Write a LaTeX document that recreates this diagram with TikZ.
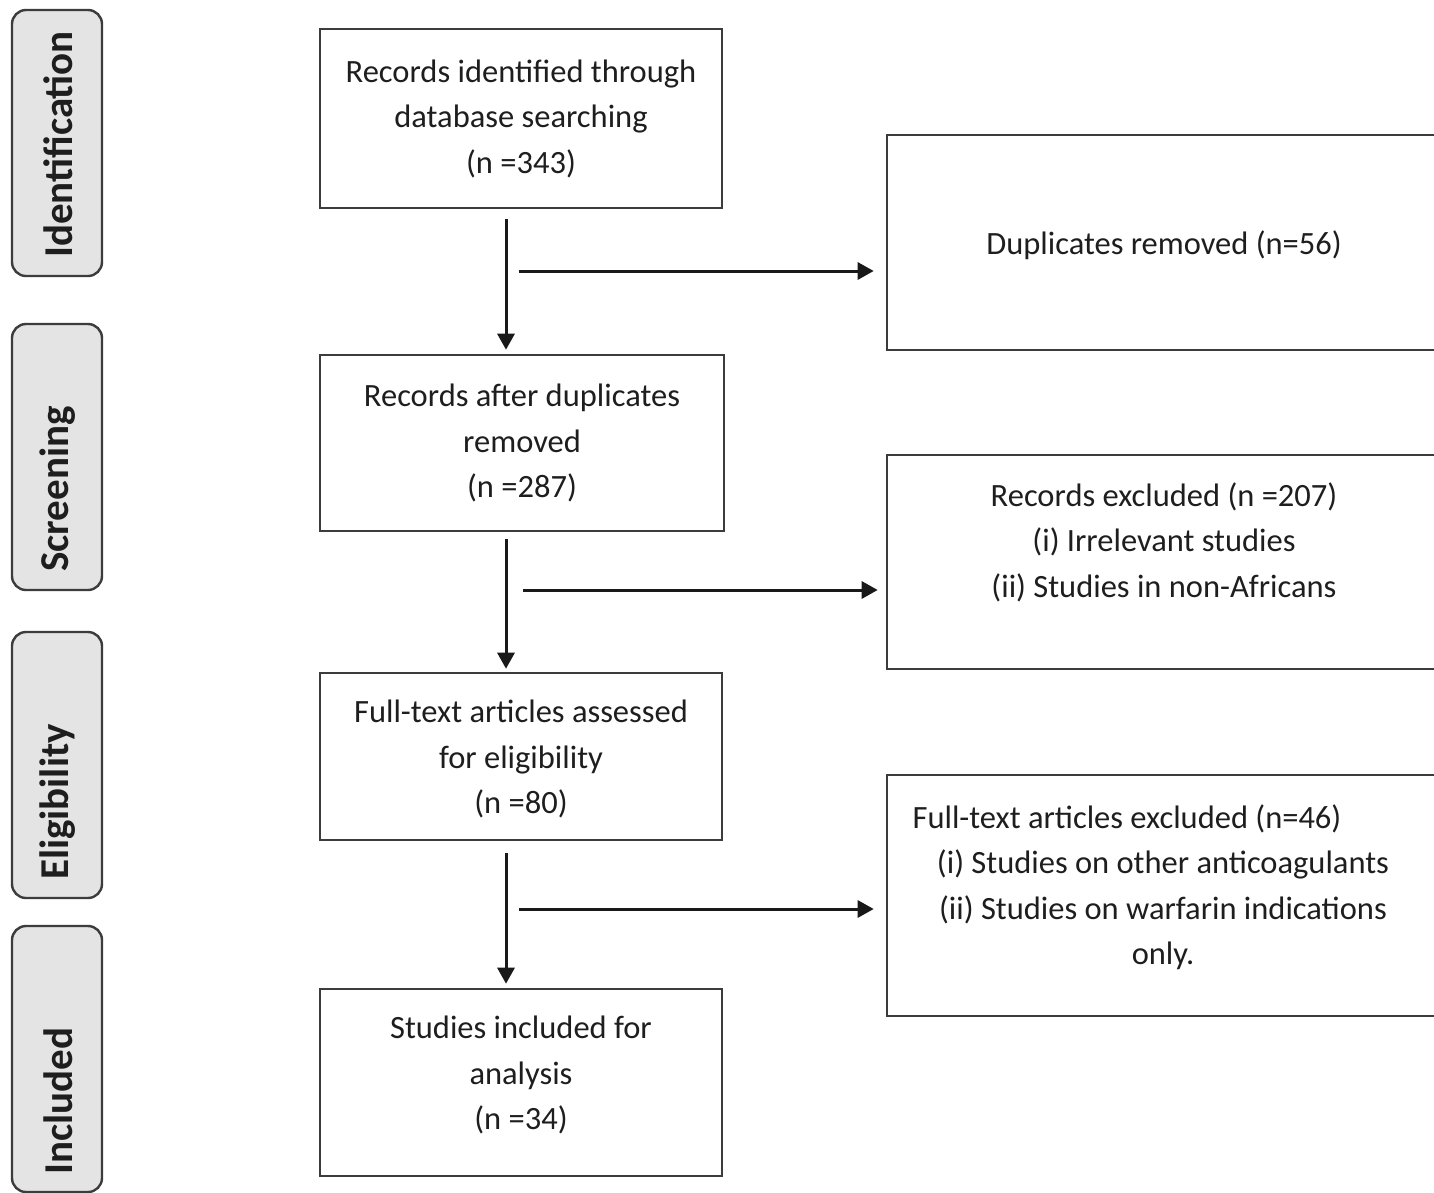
\documentclass[tikz,border=0pt]{standalone}
\usepackage{fontspec}
\setmainfont{Carlito}
\usetikzlibrary{arrows.meta,calc}
\definecolor{txt}{HTML}{1E1E1E}
\definecolor{edge}{HTML}{3C3C3C}
\definecolor{sidefill}{HTML}{E4E4E4}
\begin{document}
\begin{tikzpicture}[x=1pt,y=-1pt,
  box/.style={draw=edge,line width=2.6pt,rectangle,inner sep=0pt},
  btext/.style={align=center,inner sep=0pt,text=txt,font=\fontsize{32.5}{45.5}\selectfont},
  sidebox/.style={draw=edge,line width=2.4pt,fill=sidefill,rounded corners=14pt,inner sep=0pt,minimum width=90pt},
  sidetext/.style={rotate=90,anchor=west,inner sep=0pt,text=txt,font=\fontsize{41}{48}\selectfont\bfseries},
  arr/.style={draw=black!90,line width=3pt,-{Triangle[length=16pt,width=17pt]}}]
\useasboundingbox (0,0) rectangle (1434,1192);
\clip (0,0) rectangle (1434,1192);
\fill[white] (0,0) rectangle (1434,1192);

% side labels
\node[sidebox,minimum height=266pt] (s1) at (57,143) {};
\node[sidetext] (s1t) at (58,258) {Identification};
\node[sidebox,minimum height=266pt] (s2) at (57,457) {};
\node[sidetext] (s2t) at (58,572) {Screening};
\node[sidebox,minimum height=266pt] (s3) at (57,765) {};
\node[sidetext] (s3t) at (58,880) {Eligibility};
\node[sidebox,minimum height=266pt] (s4) at (57,1059) {};
\node[sidetext] (s4t) at (58,1175) {Included};

% main boxes
\node[box,minimum width=402pt,minimum height=179pt] (b1) at (521,118.5) {};
\node[btext] (b1t) at (521,118.5) {Records identified through\\database searching\\(n =343)};
\node[box,minimum width=404pt,minimum height=176pt] (b2) at (522,443) {};
\node[btext] (b2t) at (522,443) {Records after duplicates\\removed\\(n =287)};
\node[box,minimum width=402pt,minimum height=167pt] (b3) at (521,756.5) {};
\node[btext] (b3t) at (521,759) {Full-text articles assessed\\for eligibility\\(n =80)};
\node[box,minimum width=402pt,minimum height=187pt] (b4) at (521,1082.5) {};
\node[btext] (b4t) at (521,1075) {Studies included for\\analysis\\(n =34)};

% right boxes
\node[box,minimum width=553pt,minimum height=215pt] (r1) at (1163.5,242.5) {};
\node[btext] (r1t) at (1164,245) {Duplicates removed (n=56)};
\node[box,minimum width=553pt,minimum height=214pt] (r2) at (1163.5,562) {};
\node[btext] (r2t) at (1164,542) {Records excluded (n =207)\\(i) Irrelevant studies\\(ii) Studies in non-Africans};
\node[box,minimum width=553pt,minimum height=241pt] (r3) at (1163.5,895.5) {};
\node[btext] (r3t) at (1163,887) {\hspace*{-72pt}Full-text articles excluded (n=46)\\(i) Studies on other anticoagulants\\(ii) Studies on warfarin indications\\only.};

% vertical arrows
\draw[arr] ($(b1.south)+(-15,10)$) -- ($(b2.north)+(-16,-4)$);
\draw[arr] ($(b2.south)+(-16,7)$) -- ($(b3.north)+(-15,-3)$);
\draw[arr] ($(b3.south)+(-15,12)$) -- ($(b4.north)+(-15,-4)$);

% horizontal arrows
\coordinate (h1) at (519,271);
\coordinate (h2) at (523,590);
\coordinate (h3) at (519,909);
\draw[arr] (h1) -- ($(h1 -| r1.west)+(-12,0)$);
\draw[arr] (h2) -- ($(h2 -| r2.west)+(-8,0)$);
\draw[arr] (h3) -- ($(h3 -| r3.west)+(-12,0)$);
\end{tikzpicture}
\end{document}
